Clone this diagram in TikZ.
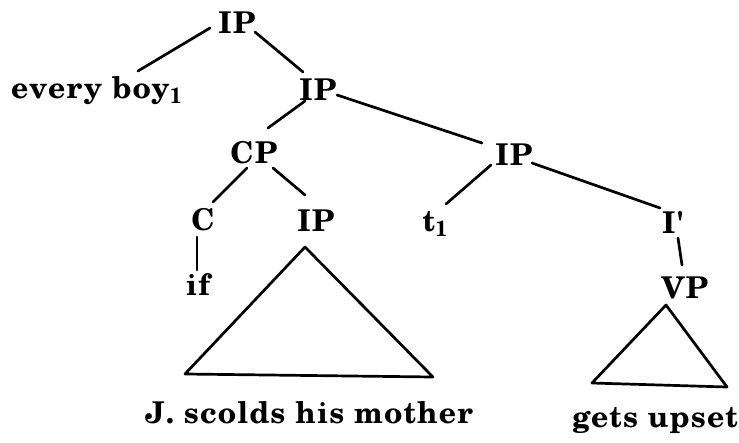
\documentclass[tikz,border=0pt]{standalone}
\usepackage{fontspec}
\newfontfamily\treefont{texgyreschola}[Extension=.otf,UprightFont=*-regular,BoldFont=*-bold,LetterSpace=4]
\newcommand{\sbone}{\raisebox{-5pt}{\fontsize{22}{22}\selectfont 1}}
\begin{document}
\begin{tikzpicture}[x=1pt,y=-1pt,
  lab/.style={inner sep=0pt,anchor=base,font=\treefont\bfseries\fontsize{30}{36}\selectfont},
  edge/.style={line width=2.7pt,line cap=round,black}]
\useasboundingbox (0,0) rectangle (739,442);
\node[lab] (root) at (237,33) {IP};
\node[lab,anchor=base west] (eb) at (11,98) {every boy\sbone};
\node[lab] (ip2) at (318,100) {IP};
\node[lab] (cp) at (254,163) {CP};
\node[lab] (ip3) at (514,165) {IP};
\node[lab] (c) at (203,230) {C};
\node[lab] (ip4) at (316,231) {IP};
\node[lab] (t1) at (435,231) {t\sbone};
\node[lab] (ib) at (673,233) {I\char"0027};
\node[lab] (if) at (198,295) {if};
\node[lab] (vp) at (685,298) {VP};
\node[lab] (js) at (309,423) {J. scolds his mother};
\node[lab] (gu) at (655,427) {gets upset};
\draw[edge] ([shift={(-27,-5)}]root.base) -- ([shift={(127,-27)}]eb.base west);
\draw[edge] ([shift={(18,-1)}]root.base) -- ([shift={(-15,-28)}]ip2.base);
\draw[edge] ([shift={(-13,1)}]ip2.base) -- ([shift={(14,-35)}]cp.base);
\draw[edge] ([shift={(19,-5)}]ip2.base) -- ([shift={(-32,-22)}]ip3.base);
\draw[edge] ([shift={(-7,5)}]cp.base) -- ([shift={(10,-28)}]c.base);
\draw[edge] ([shift={(19,5)}]cp.base) -- ([shift={(-11,-36)}]ip4.base);
\draw[edge] ([shift={(-23,0)}]ip3.base) -- ([shift={(11,-27)}]t1.base);
\draw[edge] ([shift={(18,-2)}]ip3.base) -- ([shift={(-13,-25)}]ib.base);
\draw[edge] ([shift={(-6,7)}]c.base) -- ([shift={(-1,-25)}]if.base);
\draw[edge] ([shift={(5,5)}]ib.base) -- ([shift={(-3,-33)}]vp.base);
\draw[edge,line join=round] ([shift={(-11,16)}]ip4.base) -- ([shift={(-124,-49)}]js.base) -- ([shift={(124,-46)}]js.base) -- cycle;
\draw[edge,line join=round] ([shift={(-19,7)}]vp.base) -- ([shift={(-63,-44)}]gu.base) -- ([shift={(72,-40)}]gu.base) -- cycle;
\end{tikzpicture}
\end{document}
